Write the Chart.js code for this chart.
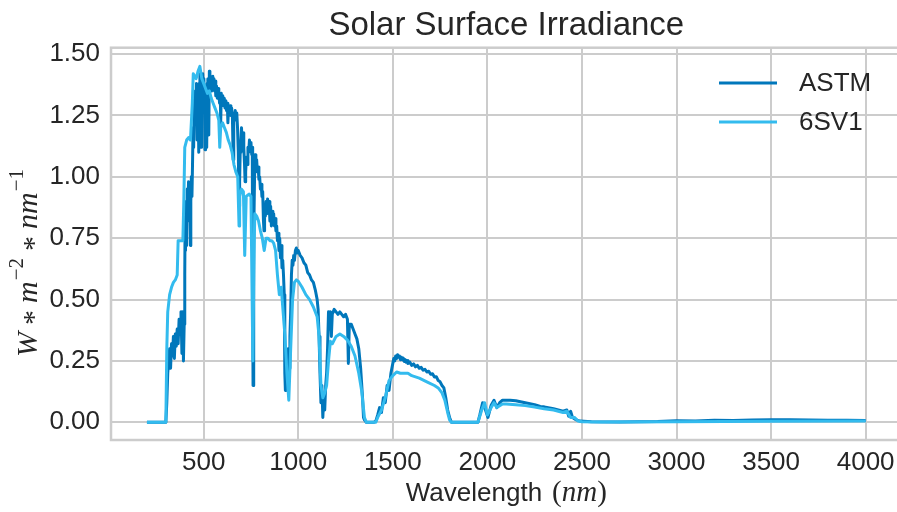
<!DOCTYPE html>
<html>
<head>
<meta charset="utf-8">
<script src="https://cdn.jsdelivr.net/npm/chart.js@4.4.0/dist/chart.umd.min.js"></script>
<style>
  html, body { margin: 0; padding: 0; overflow: hidden; background: #ffffff; width: 897px; height: 512px; }
  #wrap { position: absolute; left: 0; top: 0; width: 910px; height: 512px; }
</style>
</head>
<body>
<div id="wrap"><canvas id="chart" width="910" height="512"></canvas></div>
<script>
// Spectral irradiance, W m^-2 nm^-1, ASTM reference spectrum
const astmWavelength = [
  200, 280, 295, 300, 305, 310, 315, 320, 325, 330,
  335, 340, 345, 350, 355, 360, 365, 370, 375, 380,
  385, 390, 393, 397, 400, 402, 404, 407, 410, 413,
  416, 420, 423, 427, 430, 432, 435, 438, 441, 444,
  447, 450, 453, 456, 459, 462, 465, 468, 471, 474,
  477, 480, 483, 486, 489, 492, 495, 498, 501, 504,
  507, 510, 513, 516, 519, 522, 525, 527, 530, 533,
  536, 539, 542, 545, 548, 551, 554, 557, 560, 564,
  568, 572, 576, 580, 584, 588, 590, 593, 597, 601,
  605, 609, 613, 617, 621, 625, 628, 632, 636, 640,
  644, 648, 652, 656, 659, 663, 667, 671, 675, 679,
  683, 687, 690, 693, 697, 700, 704, 708, 712, 716,
  719, 722, 726, 730, 734, 738, 742, 746, 750, 754,
  757, 759, 761, 763, 766, 769, 772, 776, 780, 784,
  788, 792, 796, 800, 804, 808, 812, 816, 819, 822,
  826, 830, 834, 838, 842, 846, 850, 854, 858, 862,
  866, 870, 874, 878, 882, 886, 890, 894, 898, 902,
  906, 910, 914, 918, 922, 926, 929, 932, 935, 938,
  941, 944, 948, 952, 956, 960, 964, 968, 972, 976,
  980, 985, 990, 995, 1000, 1010, 1020, 1030, 1040, 1050,
  1060, 1070, 1080, 1090, 1100, 1105, 1110, 1115, 1120, 1125,
  1130, 1135, 1140, 1145, 1150, 1155, 1160, 1165, 1170, 1175,
  1180, 1190, 1200, 1210, 1220, 1230, 1240, 1250, 1260, 1265,
  1270, 1280, 1290, 1300, 1310, 1320, 1330, 1340, 1345, 1350,
  1360, 1400, 1410, 1420, 1430, 1440, 1450, 1460, 1470, 1480,
  1490, 1500, 1505, 1510, 1515, 1520, 1525, 1530, 1535, 1540,
  1545, 1550, 1555, 1560, 1565, 1570, 1575, 1580, 1590, 1600,
  1610, 1620, 1630, 1640, 1650, 1660, 1670, 1680, 1690, 1700,
  1710, 1720, 1730, 1740, 1750, 1760, 1770, 1780, 1790, 1800,
  1810, 1950, 1960, 1975, 1990, 2003, 2020, 2035, 2050, 2065,
  2080, 2100, 2120, 2150, 2200, 2250, 2280, 2300, 2350, 2400,
  2420, 2430, 2440, 2450, 2470, 2490, 2550, 2700, 2900, 3000,
  3100, 3200, 3300, 3400, 3500, 3600, 3700, 3800, 3900, 4000
];
const astmIrradiance = [
  0, 0, 0, 0.0, 0.08, 0.2, 0.25, 0.3, 0.22, 0.32,
  0.27, 0.35, 0.26, 0.36, 0.31, 0.38, 0.32, 0.42, 0.36, 0.45,
  0.28, 0.45, 0.25, 0.4, 0.6, 0.85, 0.7, 0.9, 0.72, 0.95,
  0.88, 0.98, 0.82, 0.95, 0.72, 0.9, 1.0, 0.92, 1.05, 1.2,
  1.12, 1.32, 1.22, 1.35, 1.28, 1.38, 1.15, 1.36, 1.3, 1.1,
  1.38, 1.42, 1.33, 1.12, 1.37, 1.3, 1.42, 1.35, 1.4, 1.33,
  1.11, 1.36, 1.3, 1.12, 1.38, 1.4, 1.34, 1.17, 1.43, 1.37,
  1.41, 1.35, 1.4, 1.36, 1.41, 1.37, 1.4, 1.35, 1.39, 1.33,
  1.37, 1.32, 1.36, 1.34, 1.3, 1.33, 1.22, 1.34, 1.3, 1.33,
  1.29, 1.32, 1.28, 1.31, 1.27, 1.3, 1.22, 1.29, 1.26, 1.29,
  1.25, 1.28, 1.24, 1.07, 1.26, 1.23, 1.27, 1.24, 1.26, 1.2,
  1.1, 0.88, 0.98, 1.1, 1.15, 1.2, 1.14, 1.18, 1.12, 1.05,
  0.98, 1.02, 1.08, 1.05, 1.12, 1.1, 1.15, 1.11, 1.14, 1.09,
  1.12, 0.5, 0.15, 0.35, 0.75, 1.0, 1.09, 1.05, 1.07, 1.02,
  1.04, 0.99, 1.0, 0.95, 0.97, 0.92, 0.94, 0.82, 0.78, 0.88,
  0.84, 0.9, 0.85, 0.91, 0.86, 0.9, 0.82, 0.88, 0.8, 0.86,
  0.81, 0.85, 0.8, 0.83, 0.78, 0.8, 0.74, 0.77, 0.7, 0.75,
  0.67, 0.72, 0.63, 0.66, 0.6, 0.52, 0.2, 0.13, 0.3, 0.16,
  0.25, 0.18, 0.3, 0.22, 0.35, 0.45, 0.6, 0.66, 0.64, 0.68,
  0.66, 0.7, 0.71, 0.69, 0.7, 0.68, 0.67, 0.65, 0.64, 0.61,
  0.6, 0.58, 0.57, 0.54, 0.5, 0.46, 0.35, 0.2, 0.08, 0.15,
  0.02, 0.1, 0.05, 0.15, 0.2, 0.3, 0.45, 0.38, 0.45, 0.35,
  0.44, 0.46, 0.45, 0.44, 0.45, 0.44, 0.43, 0.44, 0.42, 0.24,
  0.4, 0.4, 0.38, 0.36, 0.34, 0.3, 0.22, 0.1, 0.02, 0.01,
  0, 0, 0.005, 0.03, 0.06, 0.04, 0.1, 0.08, 0.15, 0.13,
  0.2, 0.24, 0.26, 0.25, 0.27, 0.26, 0.275, 0.265, 0.27, 0.255,
  0.265, 0.255, 0.262, 0.248, 0.256, 0.245, 0.252, 0.24, 0.245, 0.232,
  0.238, 0.226, 0.232, 0.22, 0.224, 0.212, 0.216, 0.205, 0.208, 0.196,
  0.198, 0.185, 0.186, 0.17, 0.165, 0.15, 0.14, 0.1, 0.05, 0.02,
  0, 0, 0.03, 0.08, 0.05, 0.02, 0.07, 0.09, 0.06, 0.08,
  0.09, 0.09, 0.09, 0.088, 0.08, 0.072, 0.065, 0.063, 0.055, 0.045,
  0.05, 0.025, 0.045, 0.02, 0.01, 0.005, 0.002, 0.001, 0.003, 0.006,
  0.005, 0.008, 0.007, 0.009, 0.01, 0.01, 0.009, 0.008, 0.008, 0.007
];

// Same quantity from the 6SV1 radiative transfer code
const sixsWavelength = [
  200, 250, 300, 305, 310, 320, 330, 340, 350, 360,
  365, 380, 390, 395, 400, 410, 420, 430, 440, 445,
  460, 470, 480, 490, 500, 510, 520, 530, 540, 550,
  560, 570, 580, 585, 590, 600, 610, 620, 630, 640,
  650, 660, 670, 680, 687, 690, 700, 710, 717, 725,
  740, 750, 760, 765, 770, 780, 790, 800, 810, 820,
  830, 840, 850, 860, 870, 880, 890, 900, 910, 920,
  930, 940, 950, 960, 970, 980, 990, 1000, 1020, 1040,
  1060, 1080, 1100, 1110, 1120, 1130, 1140, 1150, 1160, 1170,
  1180, 1200, 1220, 1240, 1260, 1280, 1300, 1320, 1335, 1350,
  1360, 1410, 1420, 1440, 1460, 1480, 1500, 1520, 1540, 1560,
  1580, 1600, 1640, 1680, 1720, 1740, 1760, 1775, 1790, 1800,
  1810, 1950, 1970, 1985, 2000, 2020, 2035, 2050, 2080, 2100,
  2150, 2200, 2250, 2300, 2350, 2400, 2420, 2440, 2460, 2480,
  2500, 2600, 3000, 3500, 4000
];
const sixsIrradiance = [
  0, 0, 0, 0.3, 0.45, 0.52, 0.55, 0.57, 0.58, 0.6,
  0.74, 0.74, 0.74, 0.9, 1.12, 1.15, 1.16, 1.15, 1.3, 1.42,
  1.4, 1.43, 1.45, 1.4, 1.38, 1.36, 1.34, 1.35, 1.32, 1.3,
  1.28, 1.26, 1.23, 1.12, 1.2, 1.22, 1.2, 1.18, 1.15, 1.13,
  1.1, 1.05, 1.02, 1.0, 0.8, 0.92, 0.95, 0.94, 0.68, 0.92,
  0.93, 0.92, 0.25, 0.6, 0.85, 0.84, 0.82, 0.78, 0.75, 0.7,
  0.75, 0.75, 0.74, 0.74, 0.73, 0.7, 0.6, 0.52, 0.55, 0.45,
  0.35, 0.2, 0.09, 0.3, 0.5, 0.57, 0.58, 0.575, 0.55, 0.52,
  0.5, 0.47, 0.43, 0.35, 0.15, 0.1, 0.12, 0.15, 0.25, 0.33,
  0.32, 0.35, 0.36, 0.35, 0.335, 0.31, 0.27, 0.2, 0.13, 0.02,
  0, 0, 0.02, 0.05, 0.1, 0.17, 0.19, 0.205, 0.2, 0.2,
  0.2, 0.19, 0.18, 0.165, 0.15, 0.14, 0.12, 0.09, 0.04, 0.01,
  0, 0, 0.05, 0.08, 0.03, 0.06, 0.08, 0.06, 0.075, 0.075,
  0.072, 0.068, 0.062, 0.055, 0.05, 0.04, 0.045, 0.02, 0.02, 0.005,
  0.002, 0.001, 0.002, 0.004, 0.005
];

const xTicks = [500, 1000, 1500, 2000, 2500, 3000, 3500, 4000];
const yTicks = [0, 0.25, 0.5, 0.75, 1.0, 1.25, 1.5];

const SANS = '"Liberation Sans", Arial, sans-serif';
const SERIF = '"Liberation Serif", "Times New Roman", serif';
const INK = '#262626';
const GRID = '#cccccc';

const toPoints = (xs, ys) => xs.map((x, i) => ({ x: x, y: ys[i] }));

// Plot box frame on all four sides
const framePlugin = {
  id: 'frame',
  beforeDatasetsDraw(chart) {
    const a = chart.chartArea, ctx = chart.ctx;
    ctx.save();
    ctx.strokeStyle = GRID;
    ctx.lineWidth = 2.5;
    ctx.strokeRect(a.left, a.top, a.right - a.left, a.bottom - a.top);
    ctx.restore();
  }
};

// Title, axis titles (with math-styled units) and the legend
const textPlugin = {
  id: 'texts',
  afterDraw(chart) {
    const ctx = chart.ctx, a = chart.chartArea;
    const cx = (a.left + a.right) / 2;
    ctx.save();
    ctx.fillStyle = INK;

    // title
    ctx.font = '33px ' + SANS;
    ctx.textAlign = 'center';
    ctx.textBaseline = 'alphabetic';
    ctx.fillText('Solar Surface Irradiance', cx, 35);

    // x axis title: "Wavelength (nm)"
    const xParts = [
      ['26px ' + SANS, 'Wavelength', 10],
      ['29px ' + SERIF, '(', 0],
      ['italic 29px ' + SERIF, 'nm', 0],
      ['29px ' + SERIF, ')', 0]
    ];
    let total = 0;
    xParts.forEach(p => { ctx.font = p[0]; total += ctx.measureText(p[1]).width + p[2]; });
    let x = cx - total / 2;
    ctx.textAlign = 'left';
    xParts.forEach(p => { ctx.font = p[0]; ctx.fillText(p[1], x, 501); x += ctx.measureText(p[1]).width + p[2]; });

    // y axis title: W * m^-2 * nm^-1
    ctx.translate(37, 357);
    ctx.rotate(-Math.PI / 2);
    const it = 'italic 30px ' + SERIF, up = '30px ' + SERIF, sup = '21px ' + SERIF;
    const yParts = [
      [it, 'W', 0, 7],
      [up, '*', 6, 7],
      [it, 'm', 0, 1],
      [sup, '\u22122', -14, 7],
      [up, '*', 6, 7],
      [it, 'nm', 0, 1],
      [sup, '\u22121', -14, 0]
    ];
    x = 0;
    yParts.forEach(p => { ctx.font = p[0]; ctx.fillText(p[1], x, p[2]); x += ctx.measureText(p[1]).width + p[3]; });
    ctx.restore();

    // legend
    ctx.save();
    ctx.font = '26px ' + SANS;
    ctx.textAlign = 'left';
    ctx.textBaseline = 'middle';
    chart.data.datasets.forEach((ds, i) => {
      const y = 83 + i * 39;
      ctx.strokeStyle = ds.borderColor;
      ctx.lineWidth = 3;
      ctx.lineCap = 'butt';
      ctx.beginPath();
      ctx.moveTo(719, y);
      ctx.lineTo(777, y);
      ctx.stroke();
      ctx.fillStyle = INK;
      ctx.fillText(ds.label, 799, y + 1);
    });
    ctx.restore();
  }
};

new Chart(document.getElementById('chart').getContext('2d'), {
  type: 'line',
  data: {
    datasets: [
      {
        label: 'ASTM',
        data: toPoints(astmWavelength, astmIrradiance),
        borderColor: '#0077BB',
        borderWidth: 3,
        pointRadius: 0,
        tension: 0,
        borderJoinStyle: 'round',
        order: 2
      },
      {
        label: '6SV1',
        data: toPoints(sixsWavelength, sixsIrradiance),
        borderColor: '#33BBEE',
        borderWidth: 3,
        pointRadius: 0,
        tension: 0,
        borderJoinStyle: 'round',
        order: 1
      }
    ]
  },
  options: {
    responsive: false,
    animation: false,
    devicePixelRatio: 1,
    layout: { padding: { left: 0, top: 47.7, right: 8.4, bottom: 0 } },
    plugins: {
      legend: { display: false },
      title: { display: false },
      tooltip: { enabled: false }
    },
    scales: {
      x: {
        type: 'linear',
        min: 10,
        max: 4190,
        afterBuildTicks: s => { s.ticks = xTicks.map(v => ({ value: v })); },
        afterFit: s => { s.height = 72; },
        grid: { color: GRID, lineWidth: 2, drawTicks: false },
        border: { display: false },
        ticks: {
          font: { family: SANS, size: 26 },
          color: INK,
          padding: 7,
          maxRotation: 0,
          autoSkip: false,
          callback: v => String(v)
        }
      },
      y: {
        type: 'linear',
        min: -0.072,
        max: 1.526,
        afterBuildTicks: s => { s.ticks = yTicks.map(v => ({ value: v })); },
        afterFit: s => { s.width = 111; },
        grid: { color: GRID, lineWidth: 2, drawTicks: false },
        border: { display: false },
        ticks: {
          font: { family: SANS, size: 26 },
          color: INK,
          padding: 11,
          callback: v => v.toFixed(2)
        }
      }
    }
  },
  plugins: [framePlugin, textPlugin]
});
</script>
</body>
</html>
